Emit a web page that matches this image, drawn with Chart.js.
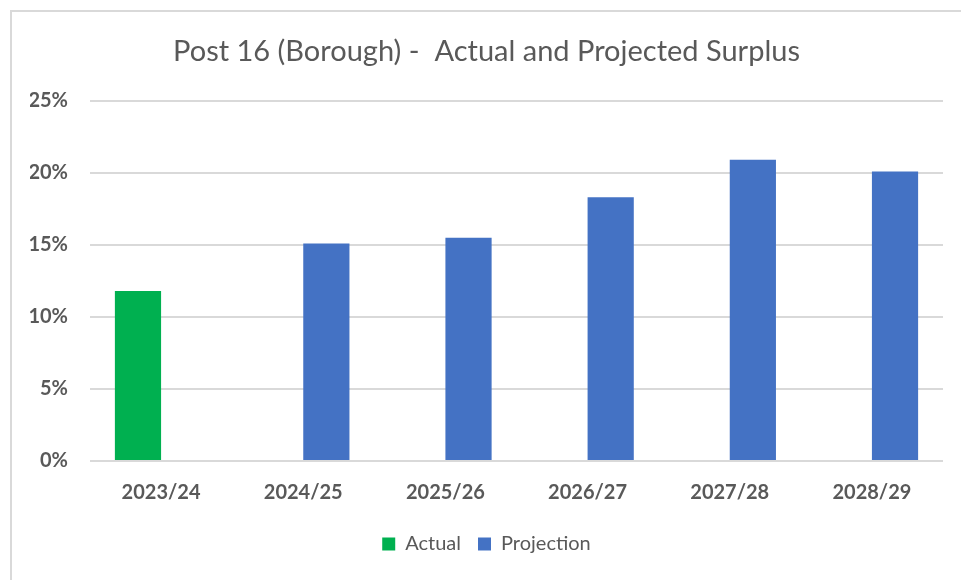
<!DOCTYPE html>
<html lang="en">
<head>
    <meta charset="UTF-8">
    <title>Post 16 Surplus</title>
    <script src="https://cdn.jsdelivr.net/npm/chart.js"></script>
    <style>
        body {
            margin: 0;
            background: #fff;
            overflow: hidden;
        }
        .frame {
            position: absolute;
            left: 10px;
            top: 10px;
            width: 1000px;
            height: 620px;
            border: 2px solid #d9d9d9;
        }
        .chart-box {
            position: absolute;
            left: 0;
            top: 0;
            width: 961px;
            height: 580px;
        }
    </style>
</head>
<body>
    <div class="frame"></div>
    <div class="chart-box">
        <canvas id="chart"></canvas>
    </div>

    <script>
        const years = ['2023/24', '2024/25', '2025/26', '2026/27', '2027/28', '2028/29'];
        const actual = [11.8, null, null, null, null, null];
        const projection = [null, 15.1, 15.5, 18.3, 20.9, 20.1];
        const yTicks = [0, 5, 10, 15, 20, 25];

        const textGrey = '#595959';
        const fontName = 'Lato, "Open Sans", sans-serif';

        const ctx = document.getElementById('chart').getContext('2d');
        new Chart(ctx, {
            type: 'bar',
            data: {
                labels: years,
                datasets: [{
                    label: 'Actual',
                    data: actual,
                    backgroundColor: '#00b050',
                    borderWidth: 0
                }, {
                    label: 'Projection',
                    data: projection,
                    backgroundColor: '#4472c4',
                    borderWidth: 0
                }]
            },
            options: {
                responsive: true,
                maintainAspectRatio: false,
                animation: false,
                categoryPercentage: 0.65,
                barPercentage: 1.0,
                layout: {
                    padding: { left: 30, right: 18, top: 20, bottom: 16 }
                },
                plugins: {
                    title: {
                        display: true,
                        text: 'Post 16 (Borough) -  Actual and Projected Surplus',
                        color: textGrey,
                        font: { family: fontName, size: 29, weight: 'normal' },
                        padding: { top: 14, bottom: 32 }
                    },
                    legend: {
                        position: 'bottom',
                        labels: {
                            color: textGrey,
                            font: { family: fontName, size: 20 },
                            boxWidth: 13,
                            boxHeight: 13,
                            padding: 17
                        }
                    },
                    tooltip: { enabled: false }
                },
                scales: {
                    x: {
                        grid: { display: false },
                        border: { display: false },
                        ticks: {
                            color: textGrey,
                            font: { family: fontName, size: 20, weight: 'bold' },
                            padding: 12
                        }
                    },
                    y: {
                        min: 0,
                        max: 25,
                        afterFit: (scale) => { scale.width = 60; },
                        afterBuildTicks: (scale) => {
                            scale.ticks = yTicks.map(v => ({ value: v }));
                        },
                        grid: { color: '#d9d9d9', lineWidth: 2, drawTicks: false },
                        border: { display: false },
                        ticks: {
                            color: textGrey,
                            font: { family: fontName, size: 20, weight: 'bold' },
                            padding: 22,
                            callback: (v) => v + '%'
                        }
                    }
                }
            }
        });
    </script>
</body>
</html>
